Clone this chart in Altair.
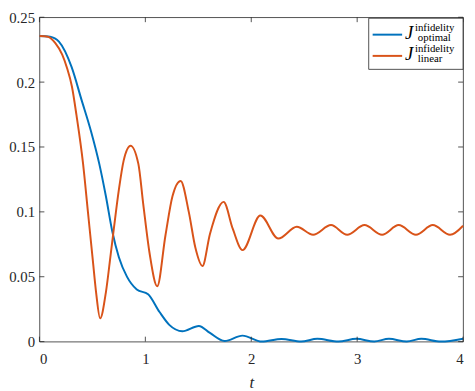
import altair as alt
import pandas as pd

# ---- data ----
t_optimal = [0.0, 0.1, 0.184, 0.304, 0.396, 0.488, 0.565, 0.627, 0.688, 0.75, 0.826,
             0.919, 1.026, 1.134, 1.226, 1.349, 1.505, 1.61, 1.748, 1.917, 2.1, 2.286, 2.47,
             2.624, 2.823, 2.993, 3.161, 3.3, 3.468, 3.606, 3.79, 4.0]
j_optimal = [0.2356, 0.2350, 0.2312, 0.2115, 0.1867, 0.1618, 0.1370, 0.1122, 0.0849,
             0.0650, 0.0501, 0.0402, 0.0365, 0.0228, 0.0129, 0.0080, 0.0121, 0.0067, 0.0005,
             0.0046, 0.0, 0.0020, 0.0, 0.0022, 0.0, 0.0022, 0.0, 0.0022, 0.0, 0.0022, 0.0, 0.0022]

t_linear = [0.0, 0.08, 0.15, 0.215, 0.258, 0.307, 0.35, 0.412, 0.458, 0.504, 0.535, 0.573,
            0.627, 0.673, 0.703, 0.75, 0.795, 0.86, 0.934, 0.98, 1.041, 1.112, 1.19, 1.256,
            1.333, 1.41, 1.472, 1.539, 1.61, 1.739, 1.825, 1.917, 2.086, 2.255, 2.43, 2.584,
            2.753, 2.906, 3.069, 3.235, 3.392, 3.555, 3.714, 3.877, 4.0]
j_linear = [0.2356, 0.2350, 0.2300, 0.2212, 0.2115, 0.1964, 0.1743, 0.1370, 0.0998, 0.0626,
            0.0378, 0.0179, 0.0378, 0.0675, 0.0874, 0.1171, 0.1395, 0.1510, 0.1370, 0.1060,
            0.0675, 0.0427, 0.0820, 0.1120, 0.1238, 0.1000, 0.0725, 0.0583, 0.0830, 0.1077,
            0.0870, 0.0705, 0.0972, 0.0794, 0.0885, 0.0823, 0.0898, 0.0823, 0.0898, 0.0823,
            0.0898, 0.0823, 0.0898, 0.0823, 0.0893]

x_ticks = [0, 1, 2, 3, 4]
y_ticks = [0, 0.05, 0.1, 0.15, 0.2, 0.25]
series_names = ["optimal", "linear"]
series_colors = ["#0072BD", "#D95319"]

W, H = 431, 330
FONT = "Liberation Serif"
AX = "#262626"

df = pd.concat([
    pd.DataFrame({"t": t_optimal, "J": j_optimal, "s": "optimal"}),
    pd.DataFrame({"t": t_linear, "J": j_linear, "s": "linear"}),
])
xt = pd.DataFrame({"v": x_ticks})
yt = pd.DataFrame({"v": y_ticks})
one = pd.DataFrame({"a": [0]})

xs = alt.Scale(domain=[0, 4], nice=False, zero=False)
ys = alt.Scale(domain=[0, 0.25], nice=False, zero=False)

lines = alt.Chart(df).mark_line(interpolate="monotone", strokeWidth=2).encode(
    x=alt.X("t:Q", scale=xs,
            axis=alt.Axis(values=x_ticks, format="d", title="t", titleFontStyle="italic",
                          titleFont=FONT, titleFontSize=17, titleFontWeight="normal",
                          titleColor=AX, titlePadding=9, labelPadding=10)),
    y=alt.Y("J:Q", scale=ys,
            axis=alt.Axis(values=y_ticks, format="~g", title=None, labelPadding=5)),
    color=alt.Color("s:N", scale=alt.Scale(domain=series_names, range=series_colors), legend=None),
)

tk = dict(color=AX, strokeWidth=0.8)
bot = alt.Chart(xt).mark_rule(**tk).encode(x=alt.X("v:Q", scale=xs), y=alt.value(H), y2=alt.value(H - 5))
top = alt.Chart(xt).mark_rule(**tk).encode(x=alt.X("v:Q", scale=xs), y=alt.value(0), y2=alt.value(5))
lft = alt.Chart(yt).mark_rule(**tk).encode(y=alt.Y("v:Q", scale=ys), x=alt.value(0), x2=alt.value(5))
rgt = alt.Chart(yt).mark_rule(**tk).encode(y=alt.Y("v:Q", scale=ys), x=alt.value(W - 5), x2=alt.value(W))

# ---- legend (manual, to allow sub/superscripts) ----
LX = W - 96
box = alt.Chart(one).mark_rect(fill="white", stroke=AX, strokeWidth=0.8).encode(
    x=alt.value(LX), x2=alt.value(LX + 96), y=alt.value(1), y2=alt.value(53))
layers = [box]
for i, (nm, col) in enumerate(zip(series_names, series_colors)):
    dy = i * 21.6
    layers.append(alt.Chart(one).mark_rule(color=col, strokeWidth=2).encode(
        x=alt.value(LX + 4), x2=alt.value(LX + 34), y=alt.value(17.7 + dy)))
    layers.append(alt.Chart(one).mark_text(text="J", font=FONT, fontStyle="italic", fontSize=19,
                                           align="left", baseline="alphabetic", color="black").encode(
        x=alt.value(LX + 37), y=alt.value(22 + dy)))
    layers.append(alt.Chart(one).mark_text(text="infidelity", font=FONT, fontSize=11,
                                           align="left", baseline="alphabetic", color="black").encode(
        x=alt.value(LX + 47), y=alt.value(13.5 + dy)))
    layers.append(alt.Chart(one).mark_text(text=nm, font=FONT, fontSize=11,
                                           align="left", baseline="alphabetic", color="black").encode(
        x=alt.value(LX + 50), y=alt.value(24 + dy)))

chart = alt.layer(lines, bot, top, lft, rgt, *layers).properties(
    width=W, height=H,
    autosize=alt.AutoSizeParams(type="none"),
    padding={"left": 32, "top": 6, "right": 4, "bottom": 56},
).configure_view(stroke=AX, strokeWidth=0.8).configure_axis(
    domain=False, ticks=False, grid=False, labelFont=FONT, labelFontSize=15,
    labelColor=AX,
)

chart.save("out.html", embed_options={"renderer": "svg", "actions": False})
